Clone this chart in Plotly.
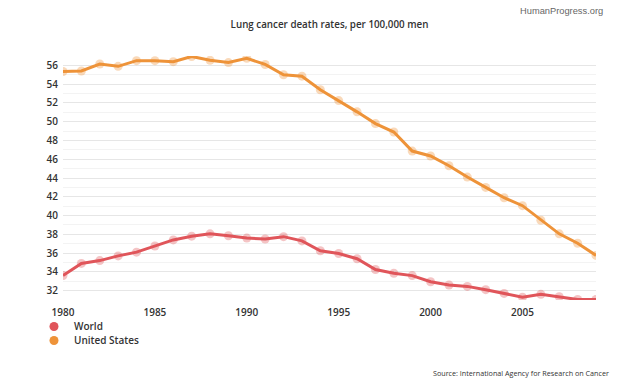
import plotly.graph_objects as go

years = list(range(1980, 2010))
world = [33.6, 34.9, 35.2, 35.7, 36.1, 36.75, 37.4, 37.8, 38.05, 37.85,
         37.6, 37.5, 37.75, 37.3, 36.25, 35.95, 35.4, 34.25, 33.85, 33.6,
         32.95, 32.6, 32.45, 32.1, 31.7, 31.3, 31.6, 31.35, 31.05, 31.05]
usa = [55.35, 55.4, 56.15, 55.9, 56.5, 56.5, 56.4, 56.95, 56.55, 56.3,
       56.75, 56.1, 55.0, 54.85, 53.4, 52.25, 51.05, 49.8, 48.9, 46.87,
       46.35, 45.3, 44.1, 43.0, 41.9, 41.05, 39.5, 38.05, 37.05, 35.75]
y_ticks = [32, 34, 36, 38, 40, 42, 44, 46, 48, 50, 52, 54, 56]
x_ticks = [1980, 1985, 1990, 1995, 2000, 2005]

RED = "#e0555a"
ORANGE = "#ee9339"
FONT = "Open Sans"

W, H = 624, 386
PL, PR, PT, PB = 63, 596, 55.6, 300.5  # plot area in window px


def px(x):
    return (x - PL) / (PR - PL)


def py(y):
    return (PB - y) / (PB - PT)


def cx(x):
    return x / W


def cy(y):
    return 1 - y / H


fig = go.Figure()
for name, vals, col in [("World", world, RED), ("United States", usa, ORANGE)]:
    fig.add_trace(go.Scatter(x=years, y=vals, mode="markers", showlegend=False,
                             marker=dict(size=9, color=col, opacity=0.35),
                             hoverinfo="skip"))
    fig.add_trace(go.Scatter(x=years, y=vals, mode="lines", showlegend=False,
                             line=dict(color=col, width=3), name=name))

legend_font = dict(family=FONT, size=10, color="#333333", weight=600)
fig.add_trace(go.Scatter(x=[None], y=[None], mode="markers", name="World",
                         marker=dict(size=9, color=RED), legend="legend"))
fig.add_trace(go.Scatter(x=[None], y=[None], mode="markers", name="United States",
                         marker=dict(size=9, color=ORANGE), legend="legend2"))

fig.update_layout(
    width=W, height=H,
    margin=dict(l=PL, r=W - PR, t=PT, b=H - PB, autoexpand=False),
    paper_bgcolor="white", plot_bgcolor="white",
    font=dict(family=FONT, color="#333333"),
    title=dict(text="Lung cancer death rates, per 100,000 men",
               font=dict(family=FONT, size=9.8, color="#333333", weight=600),
               x=cx((PL + PR) / 2), xanchor="center", y=cy(25), yanchor="middle"),
    xaxis=dict(range=[1980, 2009], tickvals=x_ticks, showgrid=False, zeroline=False,
               showline=False, ticks="outside", ticklen=3, tickcolor="rgba(0,0,0,0)",
               tickfont=dict(family=FONT, size=10, color="#333333", weight=600)),
    yaxis=dict(range=[31, 57], tickvals=y_ticks, showgrid=True, gridcolor="#e6e6e6",
               gridwidth=1, zeroline=False, showline=False, ticks="outside", ticklen=2,
               tickcolor="rgba(0,0,0,0)",
               tickfont=dict(family=FONT, size=10, color="#333333", weight=600),
               minor=dict(dtick=1, tick0=31, showgrid=True, gridcolor="#f3f3f3", gridwidth=1)),
    legend=dict(xref="container", yref="container", x=cx(34), xanchor="left",
                y=cy(312), yanchor="top", font=legend_font,
                bgcolor="rgba(0,0,0,0)", itemwidth=30),
    legend2=dict(xref="container", yref="container", x=cx(34), xanchor="left",
                 y=cy(326), yanchor="top", font=legend_font,
                 bgcolor="rgba(0,0,0,0)", itemwidth=30),
    annotations=[
        dict(text="HumanProgress.org", xref="paper", yref="paper",
             x=px(605), y=py(10), xanchor="right", yanchor="middle",
             showarrow=False, font=dict(family="Arial", size=9.3, color="#666666")),
        dict(text="Source: International Agency for Research on Cancer", xref="paper", yref="paper",
             x=px(611), y=py(374), xanchor="right", yanchor="middle",
             showarrow=False, font=dict(family=FONT, size=7.2, color="#333333")),
    ],
)
fig.update_xaxes(automargin=False)
fig.update_yaxes(automargin=False)

fig.write_html("out.html", config={"displayModeBar": False},
               post_script="document.body.style.margin='0';document.body.style.overflow='hidden';")
